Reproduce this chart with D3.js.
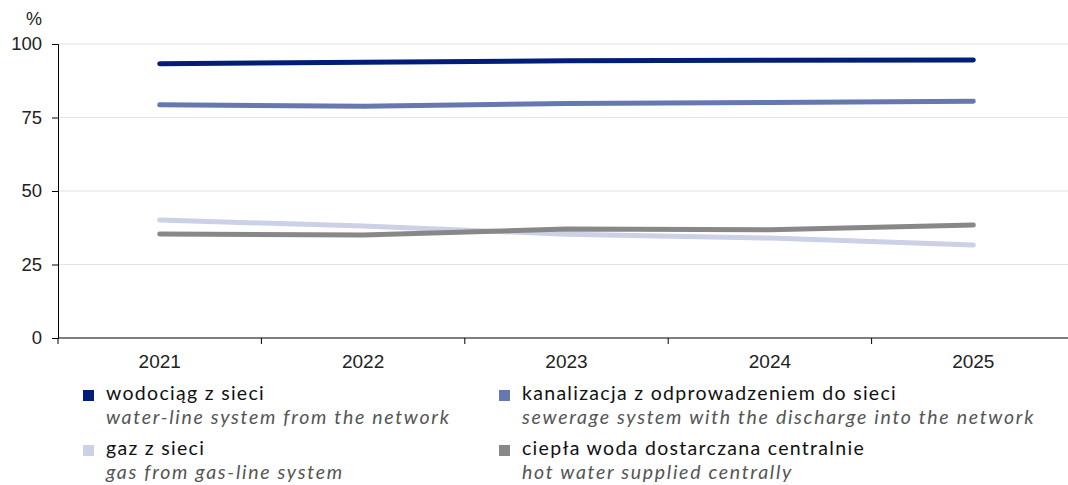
<!DOCTYPE html>
<html><head><meta charset="utf-8">
<script src="https://cdn.jsdelivr.net/npm/d3@7"></script>
<style>body{margin:0;background:#fff}svg{display:block}</style>
</head><body>
<svg id="c" width="1068" height="485"></svg>
<script>
const years = ["2021","2022","2023","2024","2025"];
const wodociag = [93.3, 93.8, 94.3, 94.5, 94.6];
const kanalizacja = [79.3, 78.8, 79.8, 80.1, 80.5];
const gaz = [40.1, 38.1, 35.3, 34.0, 31.6];
const cieplaWoda = [35.4, 35.0, 37.1, 36.8, 38.4];
const yTicks = [0, 25, 50, 75, 100];
const seriesNames = ["wodociąg z sieci","kanalizacja z odprowadzeniem do sieci","gaz z sieci","ciepła woda dostarczana centralnie"];
const seriesNamesEn = ["water-line system from the network","sewerage system with the discharge into the network","gas from gas-line system","hot water supplied centrally"];
const colors = ["#001e78","#6678b0","#cbd1e6","#888888"];
const series = [wodociag, kanalizacja, gaz, cieplaWoda];

const svg = d3.select("#c");
const x = d3.scaleBand().domain(years).range([58, 1075]);
const y = d3.scaleLinear().domain([0,100]).range([338, 44]);
const axisFont = "Liberation Sans, Arial, sans-serif";
const legFont = "Lato, Noto Sans, sans-serif";

// grid
svg.append("g").selectAll("line").data(yTicks.filter(d=>d>0)).join("line")
  .attr("x1",58).attr("x2",1068).attr("y1",d=>y(d)).attr("y2",d=>y(d))
  .attr("stroke","#e3e3e3").attr("stroke-width",1);

// y axis
const ya = svg.append("g").attr("transform","translate(58,0)")
  .call(d3.axisLeft(y).tickValues(yTicks).tickSize(6).tickPadding(10));
ya.select(".domain").attr("stroke","#000");
ya.selectAll("text").attr("font-family",axisFont).attr("font-size",18.5).attr("fill","#222");

// x axis
const xa = svg.append("g").attr("transform","translate(0,338)")
  .call(d3.axisBottom(x).tickSize(0).tickPadding(17));
xa.select(".domain").attr("stroke","#000").attr("d","M58,0H1068");
xa.selectAll("text").attr("font-family",axisFont).attr("font-size",19).attr("fill","#222");
svg.append("g").selectAll("line").data(years).join("line")
  .attr("x1",d=>x(d)).attr("x2",d=>x(d)).attr("y1",338).attr("y2",344)
  .attr("stroke","#000");

svg.append("text").attr("x",34).attr("y",25).attr("text-anchor","middle")
  .attr("font-family",axisFont).attr("font-size",18).attr("fill","#222").text("%");

// lines
const line = d3.line().x((d,i)=>x(years[i])+x.bandwidth()/2).y(d=>y(d));
const order = [2,3,1,0];
order.forEach(k=>{
  svg.append("path").attr("d",line(series[k])).attr("fill","none")
    .attr("stroke",colors[k]).attr("stroke-width",5).attr("stroke-linecap","round").attr("stroke-linejoin","round");
});

// legend
const legPos = [[83,390],[499,390],[83,445],[499,445]];
series.forEach((s,k)=>{
  const [lx,ly] = legPos[k];
  svg.append("rect").attr("x",lx).attr("y",ly).attr("width",11).attr("height",11).attr("fill",colors[k]);
  svg.append("text").attr("x",lx+23).attr("y",ly+10).attr("font-family",legFont)
    .attr("font-size",19.5).attr("letter-spacing",1.3).attr("fill","#111").text(seriesNames[k]);
  svg.append("text").attr("x",lx+23).attr("y",ly+34).attr("font-family",legFont)
    .attr("font-size",19.5).attr("letter-spacing",1.7).attr("font-style","italic").attr("fill","#555").text(seriesNamesEn[k]);
});
</script>
</body></html>
